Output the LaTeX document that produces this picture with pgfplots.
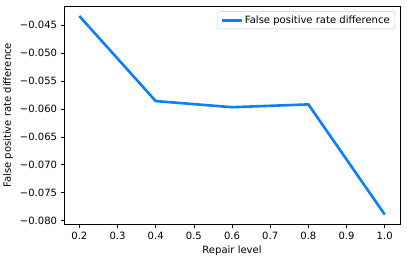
\documentclass[border=0pt]{standalone}
\usepackage{fontspec}
\setmainfont{DejaVu Sans}
\usepackage{pgfplots}
\pgfplotsset{compat=1.18}
\definecolor{lc}{RGB}{10,128,255}
\begin{document}
\begin{tikzpicture}
\begin{axis}[
  name=ax,
  width=335pt, height=218pt, scale only axis,
  xmin=0.16, xmax=1.04,
  ymin=-0.0807, ymax=-0.0416,
  scaled ticks=false,
  xtick={0.2,0.3,0.4,0.5,0.6,0.7,0.8,0.9,1.0},
  xticklabels={0.2,0.3,0.4,0.5,0.6,0.7,0.8,0.9,1.0},
  ytick={-0.080,-0.075,-0.070,-0.065,-0.060,-0.055,-0.050,-0.045},
  yticklabels={−0.080,−0.075,−0.070,−0.065,−0.060,−0.055,−0.050,−0.045},
  tick align=outside, tick pos=left,
  major tick length=3.5pt,
  every tick/.style={black, line width=0.6pt},
  axis line style={line width=0.6pt},
  ticklabel style={font=\fontsize{10}{12}\selectfont},
  label style={font=\fontsize{10}{12}\selectfont},
  xlabel={Repair level},
  ylabel={False positive rate difference},
  legend style={font=\fontsize{10}{12}\selectfont, draw=black!20, rounded corners=2pt, at={(0.985,0.975)}, anchor=north east},
  legend cell align=left,
  legend image code/.code={\draw[#1] (0pt,0pt) -- (20pt,0pt);},
]
\addplot[color=lc, line width=2.6pt] coordinates {
  (0.2,-0.0434) (0.4,-0.0586) (0.6,-0.0597) (0.8,-0.0592) (1.0,-0.0789)
};
\addlegendentry{False positive rate difference}
\end{axis}
\path ([xshift=7pt,yshift=6pt]ax.north east) ([xshift=7pt,yshift=-38pt]ax.south east);
\end{tikzpicture}
\end{document}
